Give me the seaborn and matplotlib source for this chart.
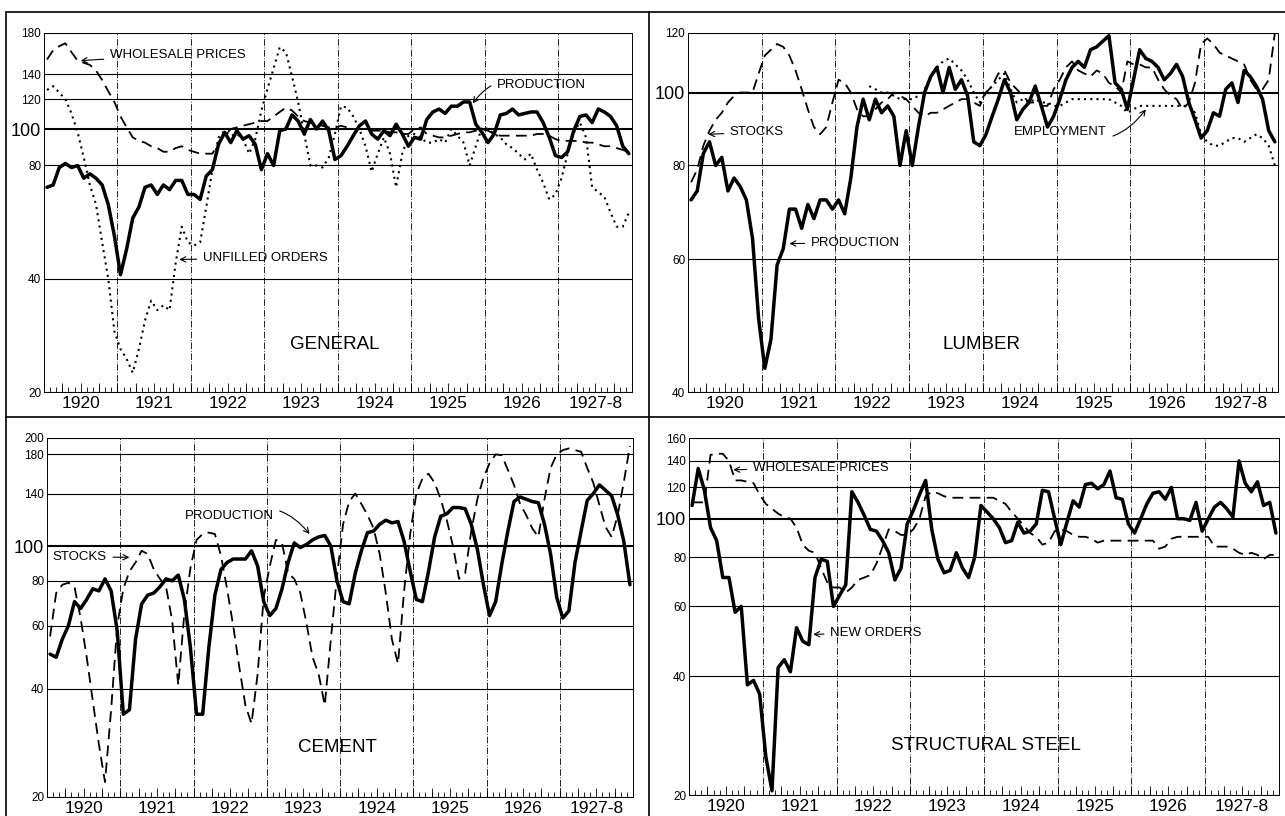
import numpy as np
import pandas as pd
import seaborn as sns
import matplotlib.pyplot as plt
from matplotlib.lines import Line2D

years = ['1920', '1921', '1922', '1923', '1924', '1925', '1926', '1927-8']
months = np.arange(96)

# General
general_production = [70, 71, 79, 81, 79, 80, 74, 76, 74, 71, 63, 52,
                      41, 48, 58, 62, 70, 71, 67, 71, 69, 73, 73, 67,
                      67, 65, 75, 78, 91, 98, 92, 99, 94, 96, 91, 78,
                      86, 80, 99, 100, 109, 105, 97, 106, 100, 105, 99, 83,
                      85, 90, 96, 102, 105, 97, 94, 99, 96, 103, 97, 90,
                      95, 94, 106, 111, 113, 110, 115, 115, 118, 118, 103, 98,
                      92, 97, 109, 110, 113, 109, 110, 111, 111, 104, 95, 85,
                      84, 87, 99, 108, 109, 104, 113, 111, 108, 102, 90, 86]
general_wholesale = [153, 162, 166, 169, 160, 152, 150, 148, 143, 135, 126, 118,
                     108, 101, 95, 93, 92, 90, 89, 87, 87, 89, 90, 88,
                     87, 86, 86, 86, 92, 96, 100, 101, 102, 103, 104, 105,
                     105, 108, 111, 114, 112, 108, 105, 104, 103, 102, 101, 101,
                     102, 101, 100, 100, 100, 99, 99, 99, 98, 98, 97, 97,
                     100, 101, 97, 96, 95, 95, 96, 97, 98, 98, 99, 100,
                     99, 97, 96, 96, 96, 96, 96, 96, 97, 97, 96, 94,
                     93, 93, 93, 93, 92, 92, 91, 90, 90, 89, 88, 87]
general_unfilled = [127, 130, 125, 120, 110, 98, 84, 71, 63, 50, 40, 29,
                    26, 24.5, 22.5, 26, 31, 35, 33, 34, 33, 44, 55, 50,
                    49, 50, 62, 78, 95, 99, 96, 97, 94, 86, 94, 112,
                    128, 145, 165, 160, 138, 118, 97, 80, 80, 79, 84, 97,
                    115, 114, 108, 100, 90, 77, 86, 95, 86, 70, 86, 96,
                    97, 95, 92, 92, 94, 92, 100, 96, 92, 80, 90, 101,
                    100, 97, 95, 91, 89, 86, 83, 86, 78, 72, 65, 67,
                    74, 86, 98, 104, 95, 70, 68, 66, 60, 55, 55, 60]

# Lumber
lumber_production = [72, 74, 83, 86, 80, 82, 74, 77, 75, 72, 64, 50,
                     43, 47, 59, 62, 70, 70, 66, 71, 68, 72, 72, 70,
                     72, 69, 77, 90, 98, 92, 98, 94, 96, 93, 80, 89,
                     80, 90, 100, 105, 108, 100, 108, 101, 104, 99, 86, 85,
                     88, 93, 98, 104, 100, 92, 95, 97, 102, 96, 90, 93,
                     98, 104, 108, 110, 108, 114, 115, 117, 119, 103, 101, 95,
                     104, 114, 111, 110, 108, 104, 106, 109, 105, 97, 92, 87,
                     89, 94, 93, 101, 103, 97, 107, 105, 102, 98, 89, 86]
lumber_stocks = [76, 79, 85, 89, 92, 94, 97, 99, 100, 100, 100, 106,
                 112, 114, 116, 115, 112, 107, 101, 95, 90, 88, 90, 97,
                 104, 103, 100, 95, 93, 93, 95, 97, 98, 100, 99, 98,
                 96, 94, 93, 94, 94, 95, 96, 97, 98, 98, 97, 96,
                 100, 102, 106, 107, 103, 101, 99, 97, 97, 96, 96, 101,
                 104, 108, 110, 107, 106, 105, 107, 106, 103, 102, 100, 110,
                 109, 109, 108, 108, 104, 101, 99, 98, 95, 97, 103, 116,
                 118, 116, 113, 112, 111, 110, 109, 104, 101, 101, 104, 120]
lumber_employment = [None] * 29 + [
    102, 101, 100, 100, 99, 98, 98, 98, 99, 101,
    105, 108, 110, 111, 109, 107, 104, 100, 97, 100,
    102, 104, 106, 101, 97, 98, 97, 98, 97, 97,
    96, 96, 97, 98, 98, 98, 98, 98, 98, 98,
    97, 96, 94, 95, 96, 96, 96, 96, 96, 96,
    96, 96, 96, 94, 88, 86, 85, 85, 86, 87,
    87, 86, 87, 88, 87, 85, 80]

# Cement
cement_production = [50, 49, 55, 60, 70, 67, 71, 76, 75, 81, 75, 58,
                     34, 35, 55, 69, 73, 74, 77, 81, 80, 83, 71, 52,
                     34, 34, 52, 73, 86, 90, 92, 92, 92, 97, 88, 70,
                     64, 67, 76, 90, 102, 99, 101, 104, 106, 107, 100, 80,
                     70, 69, 84, 97, 109, 110, 115, 118, 116, 117, 103, 85,
                     71, 70, 85, 106, 121, 123, 128, 128, 127, 115, 98, 78,
                     64, 70, 89, 110, 133, 137, 135, 133, 132, 115, 95, 72,
                     63, 66, 90, 110, 134, 140, 148, 143, 138, 122, 103, 78]
cement_stocks = [56, 74, 78, 79, 77, 63, 49, 37, 28, 22, 35, 60,
                 76, 85, 90, 97, 95, 86, 81, 77, 62, 41, 65, 87,
                 104, 108, 109, 108, 94, 76, 60, 46, 36, 32, 44, 72,
                 88, 104, 102, 84, 81, 74, 61, 49, 44, 36, 55, 82,
                 115, 133, 140, 131, 122, 112, 95, 74, 55, 47, 75, 108,
                 140, 154, 159, 150, 135, 118, 100, 81, 84, 110, 135, 155,
                 170, 180, 179, 163, 148, 131, 122, 112, 106, 135, 165, 180,
                 185, 187, 185, 183, 165, 150, 130, 113, 106, 122, 151, 190]

# Structural steel
steel_orders = [108, 134, 118, 95, 88, 71, 71, 58, 60, 38, 39, 36,
                25, 20.5, 42, 44, 41, 53, 49, 48, 71, 79, 78, 60,
                64, 68, 117, 110, 102, 94, 93, 88, 82, 70, 75, 97,
                105, 115, 125, 94, 79, 73, 74, 82, 75, 71, 80, 108,
                104, 100, 95, 87, 88, 98, 92, 93, 97, 118, 117, 100,
                86, 98, 111, 107, 122, 123, 119, 122, 132, 113, 112, 97,
                92, 100, 109, 116, 117, 112, 120, 100, 100, 99, 110, 93,
                100, 107, 110, 106, 101, 140, 123, 117, 124, 108, 110, 92]
steel_wholesale = [110, 110, 110, 145, 146, 146, 140, 125, 125, 124, 123, 115,
                   109, 106, 103, 101, 100, 95, 86, 83, 82, 75, 69, 67,
                   67, 65, 67, 70, 71, 72, 77, 85, 94, 93, 91, 91,
                   94, 100, 114, 117, 116, 114, 113, 113, 113, 113, 113, 113,
                   113, 113, 111, 109, 104, 100, 96, 92, 90, 86, 87, 93,
                   94, 93, 91, 90, 90, 89, 87, 88, 88, 88, 88, 88,
                   88, 88, 88, 88, 84, 85, 89, 90, 90, 90, 90, 90,
                   90, 85, 85, 85, 84, 82, 81, 82, 81, 79, 81, 81]

sns.set_style('white')
plt.rcParams['font.family'] = ['Liberation Sans', 'DejaVu Sans']
plt.rcParams['text.color'] = 'black'
plt.rcParams['xtick.color'] = 'black'
plt.rcParams['ytick.color'] = 'black'

styles = {
    'solid': dict(lw=2.5, linestyle='-'),
    'dashed': dict(lw=1.3, linestyle=(0, (6, 3.5))),
    'dotted': dict(lw=1.5, linestyle=(0, (1, 2))),
}


def draw_panel(ax, series, ylim, yticks, title, title_xy):
    ax.set_yscale('log')
    for vals, kind in series:
        df = pd.DataFrame({'month': months, 'value': vals}).dropna()
        sns.lineplot(data=df, x='month', y='value', ax=ax, color='black',
                     estimator=None, **styles[kind])
    ax.set_xlim(-0.5, 95.5)
    ax.set_ylim(*ylim)
    ax.set_xlabel('')
    ax.set_ylabel('')

    # y grid at the labelled values, 100 line heavier
    ax.set_yticks(yticks)
    ax.set_yticklabels([str(t) for t in yticks])
    ax.yaxis.set_minor_locator(plt.NullLocator())
    ax.grid(axis='y', color='black', lw=0.8)
    for t, gl, lab in zip(yticks, ax.get_ygridlines(), ax.get_yticklabels()):
        if t == 100:
            gl.set_linewidth(1.5)
            lab.set_fontsize(13)
        else:
            lab.set_fontsize(8.5)
    ax.tick_params(axis='y', length=0, pad=2)

    # year labels, month ticks and longer quarter ticks
    ax.set_xticks([12 * i + 5.5 for i in range(len(years))])
    ax.set_xticklabels(years, fontsize=12.5)
    ax.set_xticks([m + 0.5 for m in months[:-1]], minor=True)
    ax.tick_params(axis='x', which='major', bottom=True, length=0, pad=3)
    ax.tick_params(axis='x', which='minor', bottom=True, direction='in',
                   length=3.5, width=0.6)
    quarters = ax.secondary_xaxis('bottom')
    quarters.set_xticks([m + 0.5 for m in months[2:-1:3]])
    quarters.set_xticklabels([])
    quarters.tick_params(direction='in', length=6.5, width=0.6, color='black')
    quarters.spines['bottom'].set_visible(False)
    for i in range(1, len(years)):
        ax.axvline(12 * i - 0.5, color='black', lw=0.6, linestyle=(0, (8, 2, 1, 2)))

    for s in ax.spines.values():
        s.set_linewidth(0.7)
        s.set_color('black')
    ax.text(title_xy[0], title_xy[1], title, transform=ax.transAxes,
            ha='center', va='center', fontsize=13.5)


def label(ax, text, xy, xytext, ha='left', rad=0.0):
    ax.annotate(text, xy=xy, xycoords='data', xytext=xytext,
                textcoords='axes fraction', ha=ha, va='center', fontsize=9.5,
                arrowprops=dict(arrowstyle='->', lw=0.8, color='black',
                                shrinkA=2, shrinkB=0,
                                connectionstyle=f'arc3,rad={rad}'))


fig = plt.figure(figsize=(12.85, 8.16), dpi=100)
ax_gen = fig.add_axes([0.0342, 0.5196, 0.4576, 0.440])
ax_lum = fig.add_axes([0.5354, 0.5196, 0.4591, 0.440])
ax_cem = fig.add_axes([0.0366, 0.0233, 0.4560, 0.440])
ax_stl = fig.add_axes([0.5362, 0.0257, 0.4591, 0.4375])

draw_panel(ax_gen, [(general_unfilled, 'dotted'), (general_wholesale, 'dashed'),
                    (general_production, 'solid')],
           (20, 180), [20, 40, 80, 100, 120, 140, 180], 'GENERAL', (0.495, 0.131))
label(ax_gen, 'WHOLESALE PRICES', (5.5, 152), (0.112, 0.939))
label(ax_gen, 'PRODUCTION', (69.5, 117), (0.770, 0.855), rad=0.4)
label(ax_gen, 'UNFILLED ORDERS', (21.6, 45), (0.270, 0.373))

draw_panel(ax_lum, [(lumber_employment, 'dotted'), (lumber_stocks, 'dashed'),
                    (lumber_production, 'solid')],
           (40, 120), [40, 60, 80, 100, 120], 'LUMBER', (0.497, 0.131))
label(ax_lum, 'STOCKS', (2.8, 88), (0.071, 0.724))
label(ax_lum, 'EMPLOYMENT', (74, 95), (0.553, 0.724), rad=0.4)
label(ax_lum, 'PRODUCTION', (16, 63), (0.208, 0.415))

draw_panel(ax_cem, [(cement_stocks, 'dashed'), (cement_production, 'solid')],
           (20, 200), [20, 40, 60, 80, 100, 140, 180, 200], 'CEMENT', (0.495, 0.139))
label(ax_cem, 'PRODUCTION', (42.5, 108), (0.235, 0.783), rad=-0.4)
label(ax_cem, 'STOCKS', (13, 93), (0.010, 0.669))

draw_panel(ax_stl, [(steel_wholesale, 'dashed'), (steel_orders, 'solid')],
           (20, 160), [20, 40, 60, 80, 100, 120, 140, 160], 'STRUCTURAL STEEL', (0.503, 0.14))
label(ax_stl, 'WHOLESALE PRICES', (6.7, 133), (0.108, 0.916))
label(ax_stl, 'NEW ORDERS', (19.7, 51), (0.239, 0.454))

# frame lines around the four panels
for xs, ys in [([0.0047, 1.0], [0.985, 0.985]), ([0.0047, 0.0047], [0.0, 0.985]),
               ([0.505, 0.505], [0.0, 0.985]), ([0.0047, 1.0], [0.489, 0.489])]:
    fig.add_artist(Line2D(xs, ys, transform=fig.transFigure, color='black', lw=1.2))

fig.savefig('out.png', dpi=100)
